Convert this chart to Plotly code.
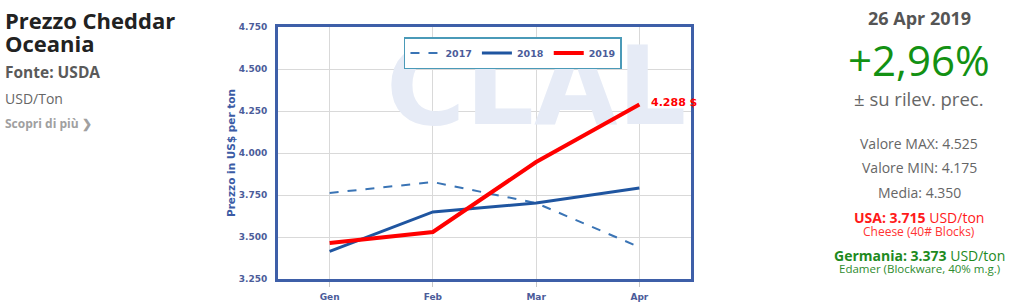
import plotly.graph_objects as go

months = ["Gen", "Feb", "Mar", "Apr"]
y2017 = [3762, 3827, 3702, 3440]
y2018 = [3415, 3649, 3702, 3792]
y2019 = [3464, 3530, 3946, 4288]
yticks = [3250, 3500, 3750, 4000, 4250, 4500, 4750]
ytick_labels = ["3.250", "3.500", "3.750", "4.000", "4.250", "4.500", "4.750"]
last_label = "4.288 $"

AXC = "#4b5c9a"
fig = go.Figure()

# watermark (behind the lines)
fig.add_trace(go.Scatter(x=["Mar"], y=[4335], mode="text", text=["CLAL"],
                         textfont=dict(family="DejaVu Sans", size=108, color="#e6ebf6", weight="bold"),
                         showlegend=False, hoverinfo="skip", cliponaxis=False))

fig.add_trace(go.Scatter(x=months, y=y2017, name="2017", mode="lines",
                         line=dict(color="#3a74b5", width=2, dash="dash")))
fig.add_trace(go.Scatter(x=months, y=y2018, name="2018", mode="lines",
                         line=dict(color="#1f55a0", width=3)))
fig.add_trace(go.Scatter(x=months, y=y2019, name="2019", mode="lines",
                         line=dict(color="#ff0000", width=4)))

fig.add_annotation(x=months[-1], y=y2019[-1], text=last_label, showarrow=False,
                   xanchor="left", xshift=10, yshift=2,
                   font=dict(family="DejaVu Sans", size=11, color="#ff0000", weight="bold"))

fig.update_xaxes(type="category", categoryorder="array", categoryarray=months,
                 range=[-0.5, 3.5], showgrid=True, gridcolor="#d9d9d9", gridwidth=1,
                 showline=True, linecolor="#3e5fa8", linewidth=3, mirror=True,
                 ticks="outside", ticklen=5, tickcolor="#c8c8c8", ticklabelstandoff=2,
                 tickfont=dict(family="DejaVu Sans", size=9, color=AXC, weight="bold"),
                 zeroline=False, automargin=False)
fig.update_yaxes(range=[3250, 4750], tickvals=yticks, ticktext=ytick_labels,
                 showgrid=True, gridcolor="#d9d9d9", gridwidth=1,
                 showline=True, linecolor="#3e5fa8", linewidth=3, mirror=True,
                 tickfont=dict(family="DejaVu Sans", size=9, color=AXC, weight="bold"),
                 ticks="", ticklabelstandoff=6, automargin=False,
                 title=dict(text="Prezzo in US$ per ton", standoff=2,
                            font=dict(family="DejaVu Sans", size=10.5, color="#3b5ba5", weight="bold")),
                 zeroline=False)

fig.update_layout(
    width=1024, height=305,
    margin=dict(l=278, r=333, t=27, b=26),
    paper_bgcolor="white", plot_bgcolor="white",
    legend=dict(orientation="h", x=0.305, y=0.96, xanchor="left", yanchor="top",
                bgcolor="white", bordercolor="#4a9ab8", borderwidth=1.5,
                font=dict(family="DejaVu Sans", size=9.5, color=AXC, weight="bold"),
                itemwidth=30, tracegroupgap=0),
)

def px(xp):
    return (xp - 278) / (1024 - 278 - 333)
def py(yp):
    return (279 - yp) / (279 - 27)

def ann(text, x, y, size, color, bold=False, xanchor="left", family="Open Sans"):
    fig.add_annotation(text=text, x=px(x), y=py(y), xref="paper", yref="paper",
                       xanchor=xanchor, yanchor="middle", showarrow=False, align=xanchor,
                       font=dict(family=family, size=size, color=color,
                                 weight="bold" if bold else "normal"))

ann("Prezzo Cheddar", 3, 20, 22, "#222222", bold=True)
ann("Oceania", 3, 43, 22, "#222222", bold=True)
ann("Fonte: USDA", 3, 72, 15.5, "#5a5a5a", bold=True)
ann("USD/Ton", 3, 98, 14, "#666666")
ann("Scopri di più ❯", 3, 124, 12, "#a0a0a0", bold=True)

cx = 919
ann("26 Apr 2019", cx, 18, 18, "#555555", bold=True, xanchor="center")
ann("+2,96%", cx, 60, 42, "#139113", xanchor="center")
ann("± su rilev. prec.", cx, 98, 18.5, "#666666", xanchor="center")
ann("Valore MAX: 4.525", cx, 143, 14, "#666666", xanchor="center")
ann("Valore MIN: 4.175", cx, 167, 14, "#666666", xanchor="center")
ann("Media: 4.350", cx, 192, 14, "#666666", xanchor="center")
ann("<b>USA: 3.715</b> USD/ton", cx, 217, 14, "#ff1a1a", xanchor="center")
ann("Cheese (40# Blocks)", cx, 231, 12, "#ff3333", xanchor="center")
ann("<b>Germania: 3.373</b> USD/ton", cx, 255, 14, "#1e8a1e", xanchor="center")
ann("Edamer (Blockware, 40% m.g.)", cx, 268, 11.5, "#2e8b2e", xanchor="center")

fig.write_html("out.html")
